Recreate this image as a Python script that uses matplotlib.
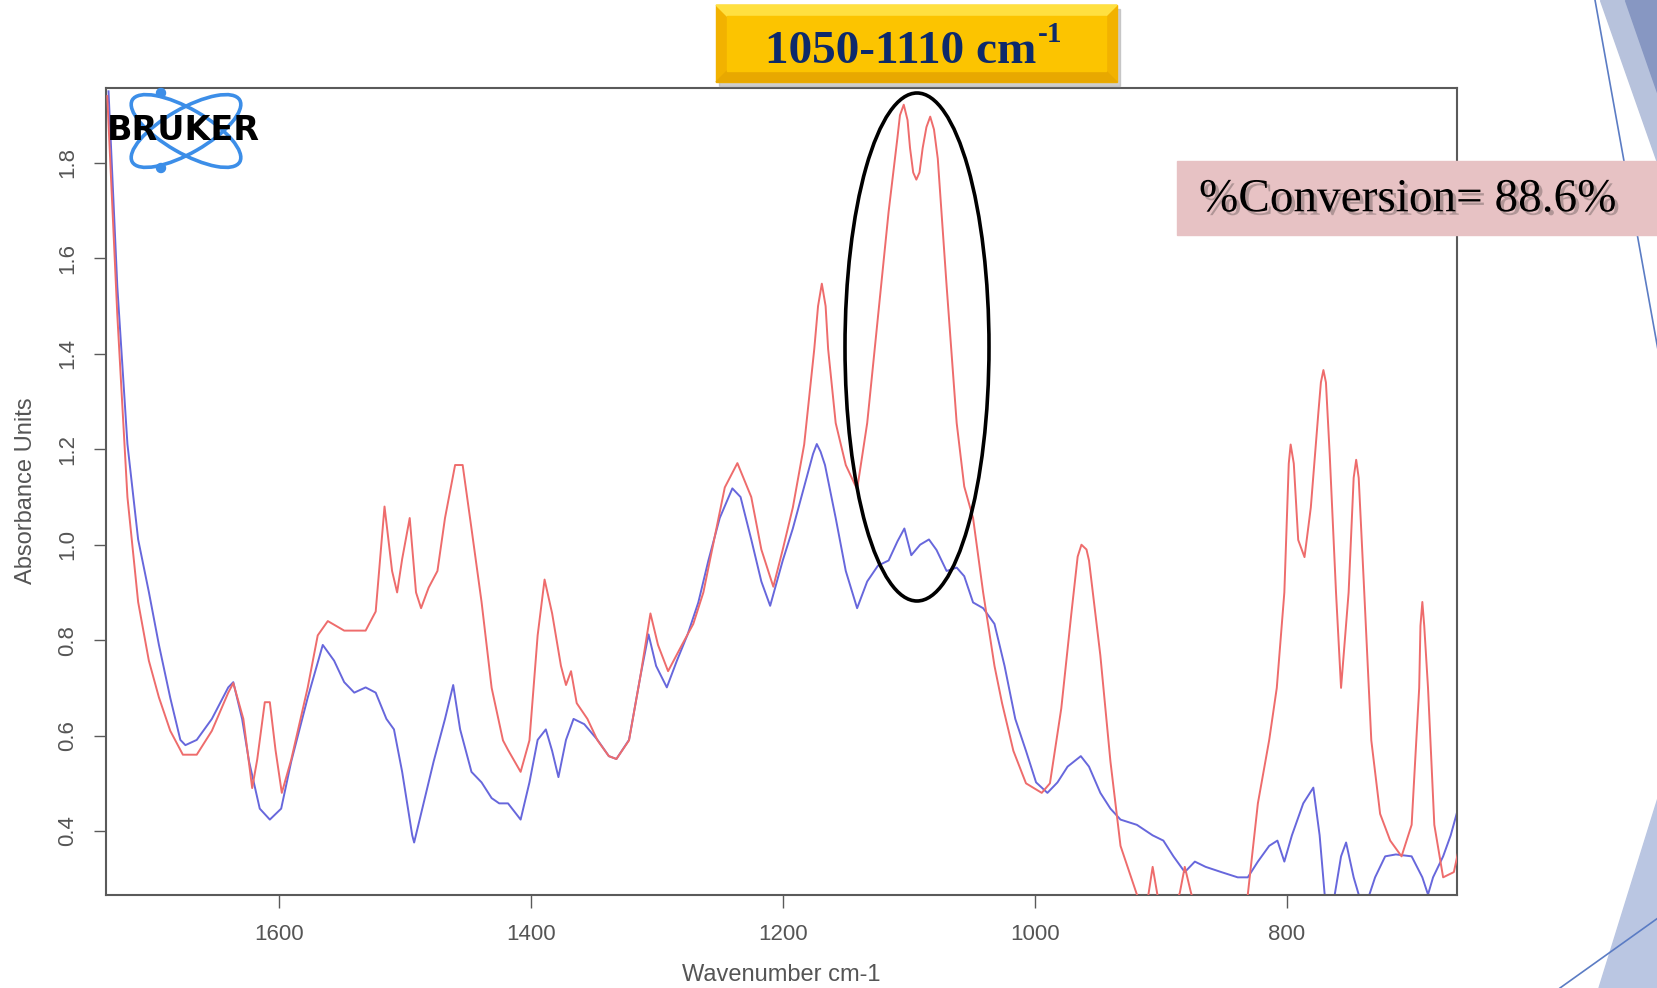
import matplotlib
matplotlib.use("Agg")
import matplotlib.pyplot as plt
from matplotlib.patches import Rectangle, Ellipse, Polygon, Circle
from matplotlib.transforms import IdentityTransform
import matplotlib.patheffects as pe

# ---------------- data ----------------
wn_red = [1736, 1728, 1720, 1711.5, 1703, 1695, 1686, 1676, 1665, 1653, 1640, 1636, 1628, 1621, 1617,
          1611, 1607, 1602.5, 1597.5, 1590, 1577, 1569, 1561, 1548, 1531, 1523, 1516, 1510, 1506, 1502,
          1496, 1491, 1487, 1481, 1474, 1468, 1460, 1454, 1447, 1439, 1431, 1422, 1418, 1408, 1401,
          1394.5, 1389, 1383, 1376, 1372, 1368, 1363.5, 1355, 1347, 1338, 1332, 1322, 1313, 1305, 1299,
          1291, 1280, 1271, 1263, 1254.5, 1246, 1236, 1225, 1217, 1207.5, 1200, 1192, 1183, 1175, 1172,
          1169, 1166, 1164, 1158, 1150, 1141, 1133, 1124.5, 1116, 1109, 1107, 1104, 1101, 1099, 1096.5,
          1094, 1091.5, 1089, 1086, 1083, 1080, 1077, 1070,
          1062, 1056, 1049, 1041, 1032, 1026, 1017, 1007, 994.5, 988, 979, 971, 966, 963, 959, 957, 948,
          940, 932, 919, 912, 906.5, 901, 893, 885, 881, 876, 870, 850, 835, 831, 823,
          814, 808, 802, 798.5, 797, 794.5, 791, 786, 781, 775, 773, 771, 769, 766, 761, 757, 751, 747, 745,
          743, 739, 733, 726, 718, 709, 701, 695, 694, 692.5, 691, 688, 683, 676, 667.5, 663]
abs_red = [1.94, 1.48, 1.10, 0.88, 0.757, 0.68, 0.61, 0.56, 0.56, 0.61, 0.69, 0.71, 0.635, 0.49, 0.55,
           0.67, 0.67, 0.57, 0.48, 0.55, 0.70, 0.81, 0.84, 0.82, 0.82, 0.86, 1.08, 0.945, 0.90, 0.97,
           1.056, 0.90, 0.867, 0.91, 0.945, 1.056, 1.167, 1.167, 1.034, 0.88, 0.70, 0.59, 0.57, 0.524, 0.59,
           0.81, 0.927, 0.856, 0.746, 0.706, 0.735, 0.668, 0.635, 0.59, 0.557, 0.551, 0.59, 0.724, 0.856, 0.79,
           0.735, 0.79, 0.834, 0.90, 1.01, 1.12, 1.171, 1.10, 0.99, 0.912, 0.99, 1.078, 1.21, 1.41, 1.50,
           1.547, 1.50, 1.41, 1.255, 1.167, 1.116, 1.255, 1.477, 1.698, 1.853, 1.90, 1.922, 1.89, 1.831, 1.78,
           1.765, 1.78, 1.831, 1.875, 1.897, 1.87, 1.809, 1.543,
           1.255, 1.122, 1.056, 0.90, 0.746, 0.668, 0.568, 0.50, 0.48, 0.50, 0.657, 0.856, 0.975, 1.0, 0.99, 0.967, 0.768,
           0.546, 0.369, 0.267, 0.23, 0.325, 0.24, 0.22, 0.27, 0.325, 0.27, 0.22, 0.22, 0.22, 0.267, 0.458,
           0.591, 0.70, 0.90, 1.17, 1.21, 1.17, 1.01, 0.974, 1.078, 1.277, 1.34, 1.366, 1.34, 1.189, 0.90, 0.70, 0.90, 1.14, 1.178,
           1.14, 0.923, 0.59, 0.436, 0.38, 0.347, 0.413, 0.70, 0.83, 0.88, 0.83, 0.70, 0.413, 0.303, 0.314, 0.369]

wn_blue = [1735, 1728, 1720, 1711.5, 1703, 1695, 1686, 1678, 1674, 1665, 1653, 1640, 1636, 1629, 1623.5,
           1615, 1607, 1598, 1590, 1577, 1565, 1556, 1548, 1540, 1531, 1523, 1514.5, 1508.5, 1502, 1494,
           1492.5, 1485, 1477, 1468, 1461.5, 1456, 1447, 1439, 1431, 1425, 1418, 1408, 1401, 1394.5, 1388,
           1383, 1378, 1372, 1366, 1357.5, 1347, 1338, 1332, 1322, 1313, 1306.5, 1300.5, 1292, 1284, 1275.5,
           1267, 1259, 1250, 1240, 1233.5, 1225, 1217, 1210, 1200, 1192, 1183, 1176, 1173, 1170, 1166.5, 1158, 1150,
           1141, 1133, 1124.5, 1116, 1109, 1103.5, 1098, 1091, 1084, 1078, 1070, 1062, 1056, 1049, 1041,
           1032, 1024, 1015.5, 1007, 999, 990, 982, 974, 963.5, 957, 948, 940, 932, 919, 906.5,
           898, 890, 881, 873, 864.5, 852, 839, 831, 823, 814, 807.5, 802, 796, 787, 779,
           774, 770, 766, 762, 757, 753, 747, 743, 738, 734.5, 730, 722, 713.5, 701, 692.5,
           688, 684, 676, 670, 663]
abs_blue = [1.95, 1.54, 1.211, 1.011, 0.901, 0.79, 0.679, 0.591, 0.58, 0.591, 0.635, 0.701, 0.712, 0.635, 0.546,
            0.447, 0.424, 0.447, 0.546, 0.679, 0.79, 0.757, 0.712, 0.69, 0.701, 0.69, 0.635, 0.613, 0.524, 0.391,
            0.376, 0.458, 0.546, 0.635, 0.706, 0.613, 0.524, 0.502, 0.469, 0.458, 0.458, 0.424, 0.502, 0.591, 0.613,
            0.568, 0.513, 0.591, 0.635, 0.624, 0.591, 0.557, 0.551, 0.591, 0.724, 0.812, 0.746, 0.701, 0.757, 0.812,
            0.879, 0.967, 1.056, 1.118, 1.10, 1.011, 0.923, 0.872, 0.967, 1.034, 1.122, 1.19, 1.211, 1.195, 1.167, 1.056, 0.945,
            0.867, 0.923, 0.956, 0.967, 1.007, 1.034, 0.978, 1.0, 1.011, 0.989, 0.945, 0.952, 0.934, 0.879, 0.867,
            0.834, 0.746, 0.635, 0.568, 0.502, 0.48, 0.502, 0.535, 0.557, 0.535, 0.48, 0.447, 0.424, 0.413, 0.391,
            0.38, 0.347, 0.314, 0.336, 0.325, 0.314, 0.303, 0.303, 0.336, 0.369, 0.38, 0.336, 0.391, 0.458, 0.491,
            0.391, 0.267, 0.20, 0.267, 0.347, 0.376, 0.303, 0.267, 0.22, 0.267, 0.303, 0.347, 0.351, 0.347, 0.303,
            0.267, 0.303, 0.347, 0.391, 0.458]

x_ticks = [1600, 1400, 1200, 1000, 800]
y_ticks = [0.4, 0.6, 0.8, 1.0, 1.2, 1.4, 1.6, 1.8]
x_label = "Wavenumber cm-1"
y_label = "Absorbance Units"
banner_main = "1050-1110 cm"
banner_sup = "-1"
conversion_text = "%Conversion= 88.6%"

# ---------------- figure ----------------
W, H = 1658, 988
fig = plt.figure(figsize=(W / 100, H / 100), dpi=100)
fig.patch.set_facecolor("white")


def fx(x):
    return x / W


def fy(y):
    return 1 - y / H


ax = fig.add_axes([fx(106), fy(895), (1457 - 106) / W, (895 - 88) / H])
ax.plot(wn_blue, abs_blue, color="#6767dc", lw=1.4, zorder=2, solid_joinstyle="round")
ax.plot(wn_red, abs_red, color="#ee6c6c", lw=1.4, zorder=3, solid_joinstyle="round")
ax.set_xlim(1737, 665)
ax.set_ylim(0.266, 1.957)
ax.set_xticks(x_ticks)
ax.set_yticks(y_ticks)
ax.set_xticklabels([str(v) for v in x_ticks])
ax.set_yticklabels([f"{v:.1f}" for v in y_ticks], rotation=90, va="center")
for s in ax.spines.values():
    s.set_color("#5a5a5a")
    s.set_linewidth(1.5)
ax.tick_params(axis="both", direction="out", length=9, width=1.0, color="#5a5a5a",
               labelsize=16, labelcolor="#555555", labelfontfamily="Liberation Sans")
ax.tick_params(axis="x", pad=12)
ax.tick_params(axis="y", pad=11)

fig.text(fx(781), fy(975), x_label, ha="center", va="center", fontsize=17,
         color="#555555", family="Liberation Sans")
fig.text(fx(26), fy(491), y_label, ha="center", va="center", rotation=90, fontsize=17,
         color="#555555", family="Liberation Sans")

# ---------------- Bruker logo ----------------
idt = IdentityTransform()
for ang in (30, -30):
    e = Ellipse((186, H - 131), 124, 44, angle=ang, fill=False, ec="#3c8ee8", lw=2.6,
                transform=idt, zorder=5)
    fig.add_artist(e)
for (cx, cy) in [(161, 93), (161, 168)]:
    fig.add_artist(Circle((cx, H - cy), 4.5, color="#3c8ee8", transform=idt, zorder=5))
fig.text(fx(107), fy(131), "BRUKER", ha="left", va="center", fontsize=24, fontweight="heavy",
         color="black", family="DejaVu Sans", zorder=6)

# ---------------- ellipse highlight ----------------
fig.add_artist(Ellipse((fx(917), fy(347)), 144 / W, 508 / H, fill=False, ec="black", lw=2.6,
                       transform=fig.transFigure, zorder=6))

# ---------------- banner ----------------
bx0, bx1, by0, by1 = 716, 1117, 5, 82
fig.add_artist(Rectangle((fx(bx0 + 3), fy(by1 + 4)), (bx1 - bx0) / W, (by1 - by0) / H,
                         transform=fig.transFigure, color="#b0b0b0", alpha=0.6, zorder=7))
fig.add_artist(Rectangle((fx(bx0), fy(by1)), (bx1 - bx0) / W, (by1 - by0) / H,
                         transform=fig.transFigure, color="#f2b200", zorder=8))
bev = 11
fig.add_artist(Polygon([(fx(bx0), fy(by0)), (fx(bx1), fy(by0)), (fx(bx1 - bev), fy(by0 + bev)),
                        (fx(bx0 + bev), fy(by0 + bev))], closed=True, transform=fig.transFigure,
                       color="#ffe040", zorder=9))
fig.add_artist(Polygon([(fx(bx0), fy(by1)), (fx(bx1), fy(by1)), (fx(bx1 - bev), fy(by1 - bev)),
                        (fx(bx0 + bev), fy(by1 - bev))], closed=True, transform=fig.transFigure,
                       color="#e8a800", zorder=9))
fig.add_artist(Rectangle((fx(bx0 + bev), fy(by1 - bev)), (bx1 - bx0 - 2 * bev) / W,
                         (by1 - by0 - 2 * bev) / H, transform=fig.transFigure,
                         color="#fcc400", zorder=9))
t_main = fig.text(fx(765), fy(63), banner_main, ha="left", va="baseline", fontsize=34,
                  fontweight="bold", color="#0d2a6b", family="Liberation Serif", zorder=10)
fig.canvas.draw()
bb = t_main.get_window_extent()
fig.text((bb.x1 + 2) / W, fy(42), banner_sup, ha="left", va="baseline", fontsize=21,
         fontweight="bold", color="#0d2a6b", family="Liberation Serif", zorder=10)

# ---------------- conversion box ----------------
fig.add_artist(Rectangle((fx(1177), fy(235)), (W - 1177) / W, (235 - 161) / H,
                         transform=fig.transFigure, color="#e7c2c4", zorder=7))
fig.text(fx(1199), fy(200), conversion_text, ha="left", va="center", fontsize=34,
         color="black", family="Liberation Serif", zorder=10,
         path_effects=[pe.withSimplePatchShadow(offset=(2.5, -2.5), shadow_rgbFace="#7a6a6a",
                                                 alpha=0.5)])

# ---------------- slide decorations (right edge) ----------------
fig.add_artist(Polygon([(fx(1600), fy(0)), (fx(W), fy(0)), (fx(W), fy(165))], closed=True,
                       transform=fig.transFigure, color="#b7c2dc", zorder=4))
fig.add_artist(Polygon([(fx(1625), fy(0)), (fx(W), fy(0)), (fx(W), fy(95))], closed=True,
                       transform=fig.transFigure, color="#8797c2", zorder=4))
fig.add_artist(plt.Line2D([fx(1595), fx(W)], [fy(0), fy(350)], transform=fig.transFigure,
                          color="#5b7cc4", lw=1.2, zorder=4))
fig.add_artist(Polygon([(fx(W), fy(798)), (fx(1599), fy(H)), (fx(W), fy(H))], closed=True,
                       transform=fig.transFigure, color="#bac6e2", zorder=4))
fig.add_artist(plt.Line2D([fx(1560), fx(W)], [fy(H), fy(918)], transform=fig.transFigure,
                          color="#5b7cc4", lw=1.2, zorder=4))

fig.savefig("out.png", dpi=100)
